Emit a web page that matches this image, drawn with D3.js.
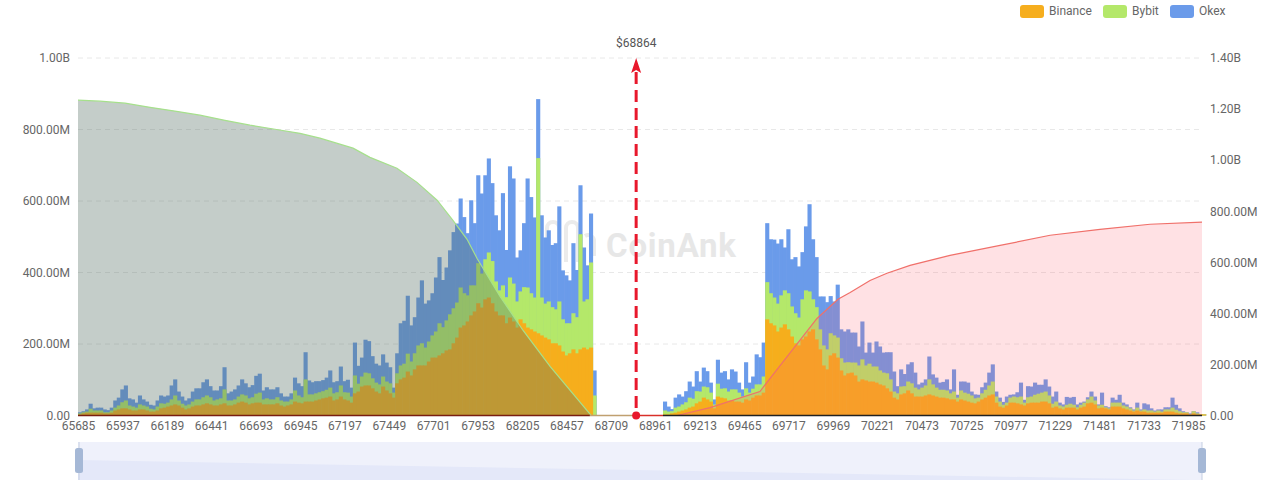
<!DOCTYPE html>
<html><head><meta charset="utf-8">
<script src="https://cdnjs.cloudflare.com/ajax/libs/d3/7.8.5/d3.min.js"></script>
<style>html,body{margin:0;padding:0;background:#fff;overflow:hidden}svg{display:block}text{font-family:Roboto,"Liberation Sans",sans-serif}</style>
</head><body><svg id="c" width="1280" height="484"></svg>
<script>
const seriesNames=["Binance","Bybit","Okex"];
const seriesColors=["#f6ae1e","#b4e86a","#6b9bea"];
const binStep=20;
const belowStart=65685;
const aboveStart=69005;
const currentPrice=68864;
const xTickLabels=[65685,65937,66189,66441,66693,66945,67197,67449,67701,67953,68205,68457,68709,68961,69213,69465,69717,69969,70221,70473,70725,70977,71229,71481,71733,71985];
const leftTicks=[0,200,400,600,800,1000];
const leftLabels=["0.00","200.00M","400.00M","600.00M","800.00M","1.00B"];
const rightTicks=[0,200,400,600,800,1000,1200,1400];
const rightLabels=["0.00","200.00M","400.00M","600.00M","800.00M","1.00B","1.20B","1.40B"];
// liquidation intensity in millions, below the current price
const binanceBelow=[3,6,8,8,8,8,8,6,6,8,14,17,20,20,17,14,14,17,17,14,11,11,14,20,22,25,28,31,28,22,17,20,25,28,28,31,34,31,28,28,31,34,28,28,31,36,39,36,31,34,36,36,31,31,31,31,34,28,25,28,31,39,36,34,39,39,39,42,45,48,50,53,42,45,53,45,42,36,62,67,81,84,84,76,67,62,81,70,
62,50,90,101,106,123,112,129,140,140,140,151,162,162,168,174,182,185,202,218,246,252,263,280,291,314,302,325,330,314,291,280,280,258,274,263,246,269,258,246,241,235,230,224,218,213,202,202,196,179,168,174,185,174,185,190,185,190,0];
const bybitBelow=[3,3,3,11,6,6,6,3,3,6,8,11,17,22,11,11,8,14,11,11,8,6,11,14,11,11,17,25,14,11,11,11,14,17,17,20,22,20,14,17,17,39,14,14,14,17,20,20,17,17,25,28,14,17,14,14,17,14,14,11,14,31,20,17,62,20,20,20,20,20,22,25,20,20,31,20,22,17,50,22,28,36,34,28,25,25,28,25,
28,14,28,39,39,50,39,45,56,62,50,56,62,73,90,73,84,98,98,98,112,90,73,84,73,112,95,112,126,118,84,70,84,73,112,106,73,78,101,112,101,95,490,106,95,106,101,95,123,90,90,84,101,101,322,129,140,238,56];
const okexBelow=[3,3,6,14,6,8,8,8,6,8,20,22,36,42,20,20,14,25,17,14,11,11,17,22,20,20,39,45,25,20,14,17,28,31,31,42,45,31,28,25,34,62,20,25,28,31,42,34,31,34,50,53,25,31,28,28,28,20,14,14,17,36,34,31,76,39,34,34,31,31,34,48,31,31,53,31,36,25,92,50,53,92,90,62,53,53,62,53,
45,14,56,118,120,162,101,101,134,176,123,115,118,151,185,132,148,179,213,221,249,213,174,238,174,246,224,235,263,218,185,168,258,132,311,294,123,115,179,305,269,224,165,230,185,199,174,185,266,137,134,120,196,132,137,151,95,137,70];
// liquidation intensity in millions, above the current price
const binanceAbove=[3,3,6,8,11,14,17,22,25,34,39,50,45,39,20,53,50,48,42,42,39,39,36,45,42,50,56,56,64,269,258,252,235,246,255,241,221,202,196,213,221,235,241,213,185,140,129,168,174,162,126,112,118,120,112,95,101,98,95,95,92,87,84,76,67,50,45,59,62,70,62,53,53,53,56,59,56,53,50,50,48,45,45,39,45,42,39,36,34,39,45,50,56,59,36,25,22,28,36,36,34,31,28,34,36,36,36,39,39,34,22,25,20,17,22,22,22,17,22,25,34,36,31,20,22,20,17,25,25,25,20,17,14,11,14,11,11,8,8,8,8,8,11,11,11,8,6,6,6,3,6,3,3,3];
const bybitAbove=[11,8,6,14,14,17,20,28,22,34,28,31,34,25,11,36,25,28,25,31,34,25,17,31,22,25,31,31,45,104,84,78,78,90,95,101,84,84,78,112,129,112,84,90,56,56,56,62,50,56,34,36,31,28,36,45,56,42,50,42,45,39,36,42,34,17,17,22,20,25,28,25,20,25,28,42,31,25,22,22,22,17,22,11,25,22,22,20,14,11,17,22,28,36,17,14,8,8,14,17,17,22,8,17,17,22,25,25,28,22,11,14,8,8,8,11,8,6,8,11,11,17,11,8,8,3,3,11,11,11,8,8,6,3,8,3,6,6,6,3,6,3,6,6,11,8,6,3,3,0,6,3,0,0];
const okexAbove=[25,14,6,28,34,22,31,45,34,56,28,53,45,28,14,67,45,48,34,56,50,28,20,73,28,34,84,76,95,165,151,162,168,157,120,179,132,157,143,132,179,244,168,140,92,137,132,104,95,148,81,87,92,84,84,53,106,36,59,39,70,67,56,59,76,56,20,48,34,48,59,42,14,14,17,64,28,28,20,22,31,11,62,8,25,31,31,11,11,8,17,20,36,48,14,11,8,17,8,6,14,39,8,31,28,34,25,22,34,25,20,28,8,6,22,17,22,8,6,3,6,14,11,3,34,3,3,14,8,22,8,6,3,3,14,3,17,17,6,3,3,6,6,6,28,14,8,3,0,3,0,3,0,0];
// cumulative curves (right axis, millions)
const cumLongPrices=[65685,65810,65952,66094,66235,66377,66519,66661,66803,66945,67058,67246,67342,67495,67609,67723,67813,67893,67950,68080,68211,68364,68597,68864];
const cumLongValues=[1235,1231,1223,1207,1192,1176,1156,1137,1121,1105,1086,1047,1011,968,913,843,764,690,615,466,333,192,0,0];
const cumShortPrices=[68864,69085,69272,69555,69879,69998,70067,70180,70276,70407,70634,70918,71202,71485,71769,72064];
const cumShortValues=[0,0,31,94,380,455,482,529,557,588,627,666,706,729,749,757];
const shadowPrices=[65685,72000,72064];
const shadowValues=[100,0,0];

const W=1280,H=484,ml=78,mr=1202,mt=58,mb=415.5;
const svg=d3.select("#c");
svg.append("defs").append("filter").attr("id","soft").attr("x","-2%").attr("width","104%").attr("y","-2%").attr("height","104%")
 .append("feGaussianBlur").attr("stdDeviation",0.45);
const x=d3.scaleLinear().domain([65685,72064]).range([ml,mr]);
const yL=d3.scaleLinear().domain([0,1000]).range([mb,mt]);
const yR=d3.scaleLinear().domain([0,1400]).range([mb,mt]);
const textC="#666";

// grid
svg.append("g").selectAll("line").data(leftTicks.slice(1)).join("line")
 .attr("x1",ml).attr("x2",mr).attr("y1",d=>yL(d)).attr("y2",d=>yL(d))
 .attr("stroke","#e8e8e8").attr("stroke-dasharray","5 4");

// watermark
const wm=svg.append("g").attr("fill","none").attr("stroke","#ebebeb").attr("stroke-width",4);
wm.append("path").attr("d","M547 262V228a6 6 0 0 1 12 0V262");
wm.append("path").attr("d","M566 262V228a6 6 0 0 1 12 0V262");
wm.append("path").attr("d","M585 236a6 6 0 0 1 9 6V256");
svg.append("text").attr("x",606).attr("y",257).attr("font-size",33).attr("font-weight",700).attr("fill","#e7e7e7").attr("textLength",130).text("CoinAnk");

// stacked bars
function bars(start,a,b,c){
 const rows=a.map((v,i)=>({price:start+i*binStep,Binance:v,Bybit:b[i],Okex:c[i]}));
 const st=d3.stack().keys(seriesNames)(rows);
 const g=svg.append("g").attr("filter","url(#soft)");
 st.slice().reverse().forEach((s,j)=>{
  const k=st.length-1-j;
  g.append("g").attr("fill",seriesColors[k]).selectAll("rect").data(s).join("rect")
   .attr("x",d=>x(d.data.price)).attr("width",d=>x(d.data.price+binStep)-x(d.data.price)+0.6)
   .attr("y",d=>yL(d[1])).attr("height",d=>yL(0)-yL(d[1]));
 });
}
bars(belowStart,binanceBelow,bybitBelow,okexBelow);
bars(aboveStart,binanceAbove,bybitAbove,okexAbove);

// cumulative areas
function cum(prices,vals,fill,stroke){
 const pts=prices.map((p,i)=>[p,vals[i]]);
 svg.append("path").datum(pts).attr("fill",fill)
  .attr("d",d3.area().x(d=>x(d[0])).y0(yR(0)).y1(d=>yR(d[1])));
 svg.append("path").datum(pts).attr("fill","none").attr("stroke",stroke).attr("stroke-width",1.2)
  .attr("d",d3.line().x(d=>x(d[0])).y(d=>yR(d[1])));
}
cum(cumLongPrices,cumLongValues,"rgba(86,113,100,0.35)","#a6e08c");
cum(cumShortPrices,cumShortValues,"rgba(255,90,105,0.18)","#f0706a");

// baseline segments
const base=[[65685,68590,"#7a1e10"],[68590,68864,"#c0a070"],[68864,69005,"#d8302a"],[69005,72064,"#222"]];
svg.append("g").selectAll("line").data(base).join("line")
 .attr("x1",d=>x(d[0])).attr("x2",d=>x(d[1])).attr("y1",mb).attr("y2",mb).attr("stroke",d=>d[2]).attr("stroke-width",1.5);

// axes
const xa=d3.axisBottom(x).tickValues(xTickLabels).tickFormat(d3.format("d")).tickSize(0).tickPadding(6);
const gx=svg.append("g").attr("transform",`translate(0,${mb})`).call(xa);
const yaL=d3.axisLeft(yL).tickValues(leftTicks).tickFormat((d,i)=>leftLabels[i]).tickSize(0).tickPadding(8);
const gl=svg.append("g").attr("transform",`translate(${ml},0)`).call(yaL);
const yaR=d3.axisRight(yR).tickValues(rightTicks).tickFormat((d,i)=>rightLabels[i]).tickSize(0).tickPadding(8);
const gr=svg.append("g").attr("transform",`translate(${mr},0)`).call(yaR);
[gx,gl,gr].forEach(g=>{g.select(".domain").remove();g.selectAll("text").attr("fill",textC).attr("font-size",12).style("font-family","Roboto,'Liberation Sans',sans-serif");});

// current price marker (sits on its category band, slightly left of the linear position)
const px=x(currentPrice)-2;
svg.append("line").attr("x1",px).attr("x2",px).attr("y1",72).attr("y2",mb).attr("stroke","#e8182c").attr("stroke-width",3).attr("stroke-dasharray","12 6");
svg.append("path").attr("fill","#e8182c").attr("d",`M${px} 58L${px+5} 73L${px} 70L${px-5} 73Z`);
svg.append("circle").attr("cx",px).attr("cy",mb).attr("r",4).attr("fill","#e8182c");
svg.append("text").attr("x",px).attr("y",47).attr("text-anchor","middle").attr("font-size",12).attr("fill","#555").text("$"+currentPrice);

// legend
const lg=[[1020,1049],[1103,1132],[1170,1199]];
seriesNames.forEach((n,i)=>{
 svg.append("rect").attr("x",lg[i][0]).attr("y",5).attr("width",24).attr("height",13).attr("rx",3).attr("fill",seriesColors[i]);
 svg.append("text").attr("x",lg[i][1]).attr("y",14.5).attr("font-size",12).attr("fill",textC).text(n);
});

// data zoom
const sy=d3.scaleLinear().domain([0,100]).range([480,460]);
svg.append("rect").attr("x",ml).attr("y",442).attr("width",mr-ml).attr("height",38).attr("fill","#eff1fb");
svg.append("path").datum(shadowPrices.map((p,i)=>[p,shadowValues[i]])).attr("fill","#e4e8f9")
 .attr("d",d3.area().x(d=>x(d[0])).y0(sy(0)).y1(d=>sy(d[1])));
[ml+1,mr].forEach(hx=>{
 svg.append("line").attr("x1",hx).attr("x2",hx).attr("y1",442).attr("y2",480).attr("stroke","#c5cfe2");
 svg.append("rect").attr("x",hx-4).attr("y",448).attr("width",8).attr("height",25).attr("rx",2.5).attr("fill","#a5b8d6");
});
</script></body></html>
